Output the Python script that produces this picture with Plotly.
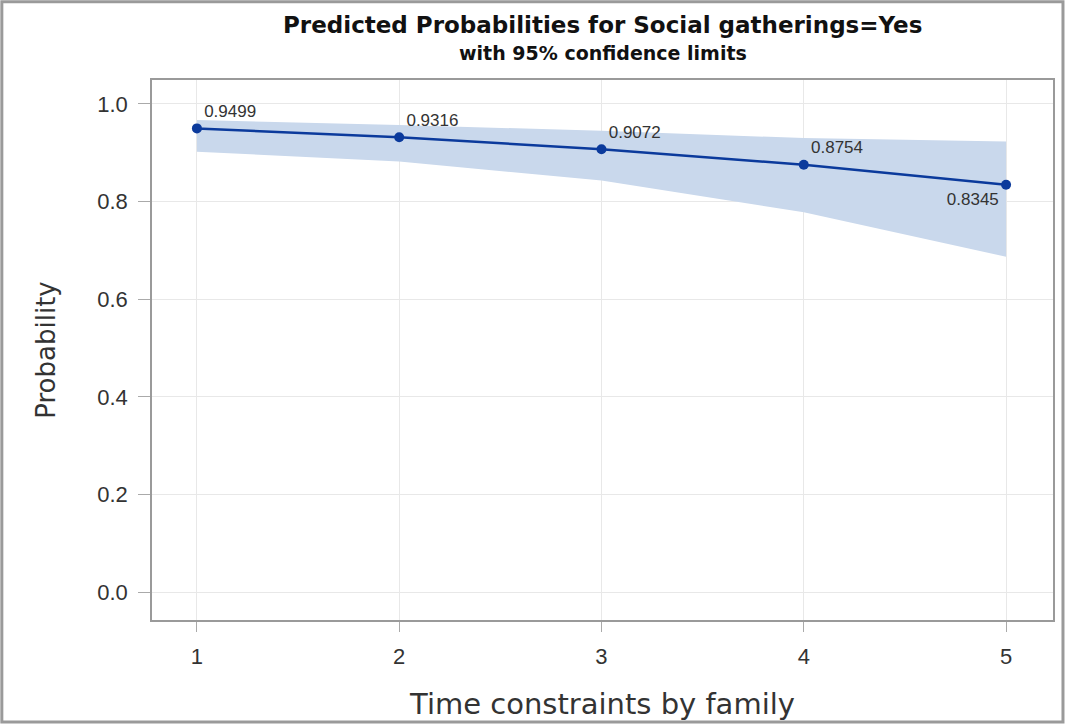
import plotly.graph_objects as go

x_vals = [1, 2, 3, 4, 5]
prob = [0.9499, 0.9316, 0.9072, 0.8754, 0.8345]
upper = [0.967, 0.957, 0.945, 0.930, 0.923]
lower = [0.902, 0.882, 0.843, 0.778, 0.687]
labels = ["0.9499", "0.9316", "0.9072", "0.8754", "0.8345"]
label_pos = ["top right", "top right", "top right", "top right", "bottom left"]
y_ticks = [0.0, 0.2, 0.4, 0.6, 0.8, 1.0]

fig = go.Figure()
fig.add_trace(go.Scatter(x=x_vals, y=upper, mode="lines", line=dict(width=0),
                         hoverinfo="skip", showlegend=False))
fig.add_trace(go.Scatter(x=x_vals, y=lower, mode="lines", line=dict(width=0),
                         fill="tonexty", fillcolor="#c9d8ec",
                         hoverinfo="skip", showlegend=False))
fig.add_trace(go.Scatter(x=x_vals, y=prob, mode="lines+markers+text",
                         line=dict(color="#0b3a9c", width=2.5),
                         marker=dict(color="#0b3a9c", size=10),
                         text=labels, textposition=label_pos,
                         textfont=dict(family="Liberation Sans", size=17, color="#333333"),
                         showlegend=False))

W = 1067
L, R = 152, 12
pw = W - L - R
H = 727
T, B = 80, 105
ph = H - T - B

fig.add_shape(type="rect", xref="paper", yref="paper",
              x0=-(L - 1.5) / pw, x1=1 + (R - 2) / pw,
              y0=-(B - 2.5) / ph, y1=1 + (T - 1.5) / ph,
              line=dict(color="#9a9a9a", width=3))

fig.add_annotation(text="<b>Predicted Probabilities for Social gatherings=Yes</b>",
                   xref="paper", yref="paper", x=0.5, y=1 + (T - 25) / ph,
                   xanchor="center", yanchor="middle", showarrow=False,
                   font=dict(family="DejaVu Sans", size=23, color="#111111"))
fig.add_annotation(text="<b>with 95% confidence limits</b>",
                   xref="paper", yref="paper", x=0.5, y=1 + (T - 53) / ph,
                   xanchor="center", yanchor="middle", showarrow=False,
                   font=dict(family="DejaVu Sans", size=19, color="#111111"))

fig.update_layout(
    width=W, height=H,
    margin=dict(l=L, r=R, t=T, b=B),
    paper_bgcolor="white", plot_bgcolor="white",
    font=dict(family="Liberation Sans", color="#333333"),
)
fig.update_xaxes(range=[0.778, 5.232], tickvals=x_vals, ticktext=[str(v) for v in x_vals],
                 showgrid=True, gridcolor="#e8e8e8", gridwidth=1,
                 showline=True, linecolor="#9a9a9a", linewidth=1.5, mirror=True,
                 ticks="outside", ticklen=10, tickcolor="#aaaaaa", ticklabelstandoff=6,
                 tickfont=dict(size=22, color="#333333"), zeroline=False,
                 title=dict(text="Time constraints by family",
                            font=dict(family="DejaVu Sans", size=29, color="#333333"), standoff=26))
fig.update_yaxes(range=[-0.057, 1.049], tickvals=y_ticks, ticktext=[f"{v:.1f}" for v in y_ticks],
                 showgrid=True, gridcolor="#e8e8e8", gridwidth=1,
                 showline=True, linecolor="#9a9a9a", linewidth=1.5, mirror=True,
                 ticks="outside", ticklen=12, tickcolor="#aaaaaa", ticklabelstandoff=6,
                 tickfont=dict(size=22, color="#333333"), zeroline=False,
                 title=dict(text="Probability",
                            font=dict(family="DejaVu Sans", size=26, color="#333333"), standoff=34))

fig.write_html("out.html", config={"displayModeBar": False},
               post_script="document.body.style.margin='0';document.body.style.overflow='hidden';")
